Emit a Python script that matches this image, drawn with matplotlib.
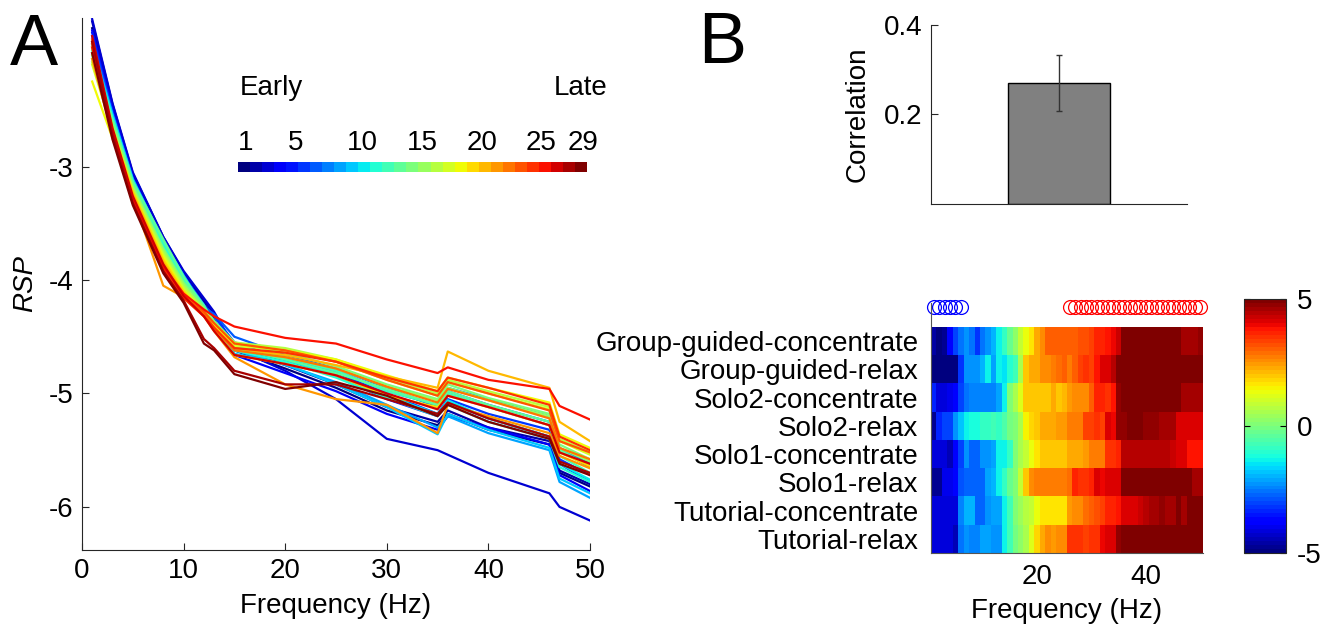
## Spectral power per session (A) and condition correlation / heatmap (B)

import matplotlib.pyplot as plt
import matplotlib.transforms as mtransforms
import numpy as np

plt.rcParams['font.family'] = ['Liberation Sans', 'DejaVu Sans']
plt.rcParams['axes.unicode_minus'] = False
plt.rcParams['font.size'] = 20

# ---- panel A data: RSP per session (29 sessions, early -> late)
freqs = [1, 3, 5, 8, 10, 12, 13, 15, 20, 25, 30, 35, 36, 40, 46, 47, 50]

rsp = [
    [-1.78, -2.48, -3.08, -3.64, -3.94, -4.20, -4.35, -4.62, -4.78, -4.95, -5.15, -5.28, -5.18, -5.32, -5.45, -5.70, -5.82],
    [-1.72, -2.45, -3.06, -3.62, -3.93, -4.18, -4.30, -4.58, -4.75, -4.92, -5.12, -5.25, -5.15, -5.30, -5.42, -5.68, -5.80],
    [-1.70, -2.44, -3.05, -3.62, -3.92, -4.16, -4.28, -4.60, -4.80, -5.05, -5.40, -5.50, -5.54, -5.70, -5.88, -6.00, -6.12],
    [-1.80, -2.50, -3.10, -3.66, -3.96, -4.22, -4.38, -4.66, -4.82, -4.98, -5.18, -5.32, -5.20, -5.30, -5.45, -5.72, -5.86],
    [-1.82, -2.52, -3.10, -3.66, -3.96, -4.22, -4.36, -4.60, -4.72, -4.85, -5.05, -5.20, -5.08, -5.22, -5.38, -5.62, -5.78],
    [-1.85, -2.52, -3.11, -3.66, -3.96, -4.22, -4.32, -4.55, -4.70, -4.82, -5.00, -5.18, -5.05, -5.18, -5.32, -5.58, -5.72],
    [-1.88, -2.54, -3.12, -3.68, -3.97, -4.24, -4.30, -4.50, -4.66, -4.78, -4.95, -5.12, -4.98, -5.10, -5.25, -5.50, -5.65],
    [-1.90, -2.55, -3.12, -3.68, -3.98, -4.25, -4.36, -4.58, -4.68, -4.80, -4.98, -5.10, -4.95, -5.05, -5.20, -5.48, -5.62],
    [-1.92, -2.55, -3.12, -3.67, -3.97, -4.26, -4.40, -4.62, -4.75, -4.90, -5.10, -5.30, -5.20, -5.35, -5.50, -5.78, -5.92],
    [-1.93, -2.54, -3.11, -3.66, -3.96, -4.25, -4.42, -4.65, -4.74, -4.92, -5.12, -5.36, -5.18, -5.32, -5.48, -5.75, -5.88],
    [-1.95, -2.56, -3.13, -3.68, -3.98, -4.24, -4.38, -4.60, -4.70, -4.84, -5.02, -5.18, -5.06, -5.22, -5.38, -5.62, -5.76],
    [-1.96, -2.58, -3.14, -3.70, -4.00, -4.26, -4.40, -4.62, -4.72, -4.86, -5.04, -5.20, -5.10, -5.25, -5.40, -5.65, -5.78],
    [-1.98, -2.60, -3.15, -3.66, -3.98, -4.22, -4.38, -4.58, -4.68, -4.80, -4.98, -5.10, -5.00, -5.12, -5.28, -5.55, -5.70],
    [-2.00, -2.58, -3.13, -3.64, -3.97, -4.25, -4.40, -4.60, -4.70, -4.82, -4.96, -5.10, -4.98, -5.10, -5.25, -5.50, -5.64],
    [-2.02, -2.62, -3.17, -3.72, -4.02, -4.24, -4.36, -4.55, -4.64, -4.76, -4.92, -5.05, -4.92, -5.04, -5.18, -5.45, -5.58],
    [-2.05, -2.64, -3.18, -3.74, -4.04, -4.28, -4.40, -4.60, -4.68, -4.78, -4.94, -5.06, -4.95, -5.06, -5.20, -5.48, -5.60],
    [-2.08, -2.66, -3.20, -3.76, -4.06, -4.26, -4.38, -4.55, -4.60, -4.70, -4.86, -5.00, -4.88, -4.98, -5.12, -5.40, -5.52],
    [-2.10, -2.68, -3.22, -3.78, -4.08, -4.28, -4.40, -4.58, -4.62, -4.72, -4.88, -5.02, -4.90, -5.00, -5.14, -5.42, -5.54],
    [-2.25, -2.75, -3.25, -3.80, -4.10, -4.30, -4.40, -4.56, -4.62, -4.70, -4.84, -4.98, -4.86, -4.95, -5.08, -5.36, -5.48],
    [-1.95, -2.66, -3.22, -3.82, -4.10, -4.30, -4.44, -4.66, -4.74, -4.84, -5.02, -5.12, -5.02, -5.12, -5.28, -5.52, -5.64],
    [-2.00, -2.68, -3.24, -3.84, -4.12, -4.30, -4.42, -4.60, -4.66, -4.75, -4.85, -4.95, -4.63, -4.80, -4.95, -5.25, -5.42],
    [-2.05, -2.72, -3.28, -4.05, -4.15, -4.32, -4.45, -4.68, -4.92, -5.05, -5.10, -5.35, -5.10, -5.20, -5.35, -5.55, -5.66],
    [-1.92, -2.70, -3.28, -3.88, -4.14, -4.30, -4.42, -4.62, -4.68, -4.78, -4.94, -5.08, -4.96, -5.06, -5.22, -5.48, -5.58],
    [-1.88, -2.68, -3.28, -3.90, -4.15, -4.28, -4.38, -4.56, -4.62, -4.72, -4.88, -5.02, -4.90, -5.00, -5.15, -5.42, -5.52],
    [-1.90, -2.70, -3.30, -3.90, -4.16, -4.32, -4.42, -4.60, -4.64, -4.72, -4.86, -4.98, -4.86, -4.95, -5.10, -5.38, -5.50],
    [-1.95, -2.72, -3.30, -3.88, -4.12, -4.26, -4.32, -4.41, -4.51, -4.56, -4.70, -4.82, -4.77, -4.88, -4.96, -5.11, -5.23],
    [-1.85, -2.66, -3.26, -3.86, -4.14, -4.32, -4.45, -4.66, -4.74, -4.84, -5.00, -5.14, -5.02, -5.12, -5.28, -5.52, -5.62],
    [-1.90, -2.72, -3.32, -3.92, -4.18, -4.52, -4.60, -4.80, -4.92, -4.92, -5.05, -5.18, -5.08, -5.22, -5.38, -5.60, -5.70],
    [-2.00, -2.76, -3.34, -3.94, -4.20, -4.56, -4.62, -4.83, -4.96, -4.90, -5.02, -5.20, -5.10, -5.25, -5.40, -5.62, -5.72],
]
session_ticks = [1, 5, 10, 15, 20, 25, 29]

# ---- panel B data
corr_mean = 0.27
corr_err = 0.063

conditions = ['Group-guided-concentrate', 'Group-guided-relax', 'Solo2-concentrate',
              'Solo2-relax', 'Solo1-concentrate', 'Solo1-relax',
              'Tutorial-concentrate', 'Tutorial-relax']
heat_freqs = list(range(1, 51))
heat = [
    [-4.6, -4.9, -4.7, -3.9, -3.1, -2.6, -2.3, -2.6, -3.2, -2.6,
     -2.3, -1.9, -1.3, -0.8, -0.3, 0.3, 0.8, 1.3, 1.7, 2.2,
     2.6, 3.1, 3.0, 3.1, 3.0, 3.0, 3.1, 3.2, 3.2, 3.4,
     3.6, 3.7, 3.9, 4.0, 4.3, 5, 5, 5, 5, 5,
     5, 5, 5, 5, 5, 5, 4.6, 4.6, 4.6, 4.8],
    [-4.9, -5, -5, -4.9, -5, -3.2, -2.3, -2.3, -2.2, -1.9,
     -1.4, -2.1, -1.3, -1.5, -1.0, -0.7, 0.6, 2.0, 2.3, 2.3,
     2.6, 2.6, 2.8, 2.9, 3.0, 2.8, 3.0, 3.4, 3.5, 3.4,
     3.9, 4.1, 4.2, 4.5, 5, 5, 5, 5, 5, 5,
     5, 5, 5, 5, 5, 5, 5, 5, 5, 5],
    [-3.4, -4.2, -4.2, -4.0, -3.9, -3.1, -2.6, -2.4, -2.4, -2.4,
     -2.4, -2.5, -2.1, -1.3, 0.0, 0.6, 1.2, 1.9, 1.9, 1.9,
     2.0, 1.9, 2.2, 2.0, 2.1, 2.4, 2.5, 2.5, 2.6, 3.0,
     3.6, 3.7, 3.5, 3.8, 4.8, 5, 5, 5, 5, 5,
     5, 5, 5, 5, 5, 5, 4.6, 4.6, 4.6, 4.6],
    [-4.8, -3.4, -3.1, -3.1, -2.3, -1.85, -1.3, -1.1, -1.2, -0.8,
     -0.8, -0.7, -0.8, -0.5, -0.1, 0.1, 0.6, 1.5, 1.8, 2.0,
     2.2, 2.3, 2.2, 2.4, 2.4, 2.8, 2.7, 2.8, 3.4, 3.3,
     3.5, 3.4, 4.1, 4.0, 4.7, 4.8, 5, 5, 5, 4.7,
     4.7, 4.8, 4.6, 4.6, 4.6, 4.2, 4.2, 4.1, 4.2, 4.2],
    [-4.2, -4.2, -4.2, -4.4, -3.9, -3.0, -2.3, -2.75, -2.75, -2.3,
     -2.3, -2.1, -1.3, -1.3, -0.8, 0.0, 0.5, 0.8, 1.25, 1.6,
     1.9, 1.9, 2.0, 1.9, 1.9, 2.2, 2.3, 2.3, 2.4, 2.7,
     2.8, 2.8, 3.5, 3.5, 3.7, 4.4, 4.4, 4.4, 4.4, 4.4,
     4.4, 4.4, 4.4, 4.4, 4.3, 4.2, 4.2, 3.8, 3.75, 3.8],
    [-4.8, -4.7, -4.0, -4.0, -3.9, -2.9, -2.75, -2.75, -2.7, -2.75,
     -2.1, -2.0, -1.3, -0.8, -0.2, 0.1, 0.9, 2.0, 2.5, 2.7,
     2.8, 2.8, 2.7, 2.8, 2.7, 2.9, 3.6, 3.5, 3.5, 3.6,
     4.1, 4.0, 4.1, 4.2, 4.2, 5, 5, 5, 5, 5,
     5, 5, 5, 5, 5, 5, 5, 5, 4.6, 4.6],
    [-4.2, -4.2, -4.2, -4.2, -4.2, -2.5, -1.9, -1.9, -2.75, -2.75,
     -2.3, -2.1, -2.1, -1.3, -0.7, 0.1, 0.4, 0.7, 0.9, 1.25,
     1.6, 1.7, 1.6, 1.6, 1.7, 2.4, 2.5, 2.6, 2.9, 3.0,
     3.2, 3.3, 3.6, 3.7, 3.75, 4.2, 4.2, 4.2, 4.3, 4.5,
     4.6, 4.6, 4.7, 4.6, 4.6, 5, 4.6, 5, 5, 5],
    [-4.2, -4.2, -4.2, -4.2, -4.5, -2.6, -2.3, -2.4, -2.4, -2.1,
     -2.1, -2.3, -2.3, -1.3, -0.7, -0.1, 0.2, 0.6, 1.2, 1.8,
     2.3, 2.5, 2.4, 2.5, 2.5, 3.5, 3.5, 3.5, 3.4, 3.5,
     3.5, 4.0, 4.1, 4.1, 4.7, 5, 5, 5, 5, 5,
     5, 5, 5, 5, 5, 5, 5, 5, 5, 5],
]
low_sig = [1, 2, 3, 4, 5, 6]
high_sig = list(range(26, 51))

W, H = 1322, 628
def box(x0, y0, x1, y1):
    # pixel box (top-left origin) -> figure fraction rect
    return [x0 / W, 1 - y1 / H, (x1 - x0) / W, (y1 - y0) / H]

spine_col = '#262626'
fig = plt.figure(figsize=(W / 100, H / 100), dpi=100)

# ---------------- A
ax = fig.add_axes(box(82, 18, 590, 550))
jet29 = plt.get_cmap('jet', 29)
for i, row in enumerate(rsp):
    ax.plot(freqs, row, color=jet29(i), lw=1.6)
ax.set_xlim(0, 50)
ax.set_ylim(-6.38, -1.69)
ax.set_xticks([0, 10, 20, 30, 40, 50])
ax.set_yticks([-6, -5, -4, -3])
ax.set_xlabel('Frequency (Hz)', labelpad=6)
ax.set_ylabel('RSP', style='italic', labelpad=8)
for s in ['top', 'right']:
    ax.spines[s].set_visible(False)
for s in ['left', 'bottom']:
    ax.spines[s].set_color(spine_col)
ax.tick_params(direction='in', length=5, color=spine_col, pad=6)

# session colour key
cax = fig.add_axes(box(238, 162, 587, 172))
cax.imshow(np.arange(1, 30)[None, :], cmap=jet29, aspect='auto',
           extent=(0.5, 29.5, 0, 1), interpolation='nearest')
cax.set_xticks(session_ticks)
cax.set_yticks([])
cax.xaxis.tick_top()
cax.tick_params(length=0, pad=4)
for s in cax.spines.values():
    s.set_visible(False)
# nudge labels the way they sit in the original
nudge = [2, 3, 10, 10, 9, 8, 2]
for lab, dx in zip(cax.get_xticklabels(), nudge):
    lab.set_transform(lab.get_transform() +
                      mtransforms.ScaledTranslation(dx / 100, 0, fig.dpi_scale_trans))
fig.text(240 / W, 1 - 88 / H, 'Early', ha='left', va='center')
fig.text(607 / W, 1 - 88 / H, 'Late', ha='right', va='center')

fig.text(10 / W, 1 - 65 / H, 'A', fontsize=52, ha='left', va='baseline')
fig.text(698 / W, 1 - 63 / H, 'B', fontsize=52, ha='left', va='baseline')

# ---------------- B bar
bx = fig.add_axes(box(931, 25, 1187, 204))
bx.bar([1], [corr_mean], width=0.8, color='#808080', edgecolor='black', lw=1)
bx.errorbar([1], [corr_mean], yerr=[corr_err], color='#333333', lw=1,
            capsize=2, capthick=1)
bx.set_xlim(0, 2)
bx.set_ylim(0, 0.4)
bx.set_yticks([0.2, 0.4])
bx.set_xticks([])
bx.set_ylabel('Correlation', labelpad=10)
for s in ['top', 'right']:
    bx.spines[s].set_visible(False)
for s in ['left', 'bottom']:
    bx.spines[s].set_color(spine_col)
bx.tick_params(direction='in', length=5, color=spine_col, pad=6)

# ---------------- B heatmap
jet64 = plt.get_cmap('jet', 64)
hx = fig.add_axes(box(931, 303, 1203, 553))
im = hx.imshow(np.array(heat), cmap=jet64, vmin=-5, vmax=5, aspect='auto',
               extent=(0.5, 50.5, 8.5, 0.5), interpolation='nearest')
hx.plot(low_sig, [-0.21] * len(low_sig), 'o', mfc='none', mec='blue',
        ms=10, mew=0.9, clip_on=False)
hx.plot(high_sig, [-0.21] * len(high_sig), 'o', mfc='none', mec='red',
        ms=10, mew=0.9, clip_on=False)
hx.set_xlim(0.5, 50.5)
hx.set_ylim(8.5, -0.35)
hx.set_xticks([20, 40])
hx.set_yticks(range(1, 9))
hx.set_yticklabels(conditions)
hx.set_xlabel('Frequency (Hz)', labelpad=6)
for s in ['top', 'right']:
    hx.spines[s].set_visible(False)
for s in ['left', 'bottom']:
    hx.spines[s].set_color('#555555')
hx.tick_params(axis='y', length=0, pad=9)
hx.tick_params(axis='x', direction='in', length=0, pad=8)

cbx = fig.add_axes(box(1244, 299, 1286, 553))
cb = fig.colorbar(im, cax=cbx, ticks=[-5, 0, 5])
cb.outline.set_edgecolor(spine_col)
cbx.tick_params(direction='in', length=4, left=True, pad=8)

fig.savefig('out.png', dpi=100)
